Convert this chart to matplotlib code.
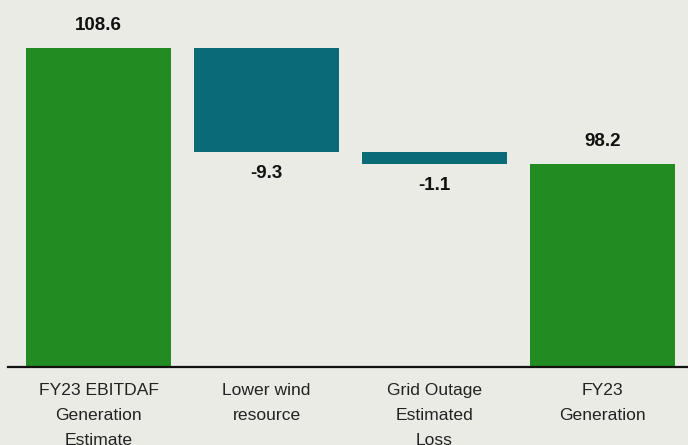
import matplotlib
matplotlib.use("Agg")
import matplotlib.pyplot as plt

# Generation bridge
categories = ["FY23 EBITDAF\nGeneration\nEstimate", "Lower wind\nresource",
              "Grid Outage\nEstimated\nLoss", "FY23\nGeneration"]
values = [108.6, -9.3, -1.1, 98.2]
is_total = [True, False, False, True]
value_labels = ["108.6", "-9.3", "-1.1", "98.2"]

GREEN = "#228B22"
TEAL = "#0A6A76"
BG = "#EBEBE6"

fig = plt.figure(figsize=(6.88, 4.45), dpi=100, facecolor=BG)
ax = fig.add_axes([8 / 688, 1 - 366.5 / 445, 680 / 688, 366.5 / 445])
ax.set_facecolor(BG)

running = 0.0
bottoms, heights, colors = [], [], []
for v, tot in zip(values, is_total):
    if tot:
        bottoms.append(0.0)
        heights.append(v)
        colors.append(GREEN)
        running = v
    else:
        running += v
        bottoms.append(running)
        heights.append(-v)
        colors.append(TEAL)

x = list(range(len(values)))
ax.bar(x, heights, bottom=bottoms, width=0.863, color=colors, zorder=2)

label_font = ["Liberation Sans", "DejaVu Sans"]
for i, (b, h, tot, lab) in enumerate(zip(bottoms, heights, is_total, value_labels)):
    if tot:
        ax.annotate(lab, (i, b + h), xytext=(0, 16.5), textcoords="offset points",
                    ha="center", va="center", fontsize=13.5, fontweight="bold",
                    family=label_font, color="#111111")
    else:
        ax.annotate(lab, (i, b), xytext=(0, -15.5), textcoords="offset points",
                    ha="center", va="center", fontsize=13.5, fontweight="bold",
                    family=label_font, color="#111111")

ax.set_xlim(-0.539, 3.509)
ax.set_ylim(80, 112.93)
ax.set_xticks(x)
ax.set_xticklabels(categories, fontsize=12.6, color="#222222",
                   family=["Liberation Sans", "DejaVu Sans"],
                   linespacing=1.83)
ax.tick_params(axis="x", length=0, pad=12)
ax.set_yticks([])
for s in ["top", "right", "left"]:
    ax.spines[s].set_visible(False)
ax.spines["bottom"].set_color("#111111")
ax.spines["bottom"].set_linewidth(1.6)
ax.spines["bottom"].set_zorder(3)

fig.savefig("out.png", dpi=100, facecolor=BG)
